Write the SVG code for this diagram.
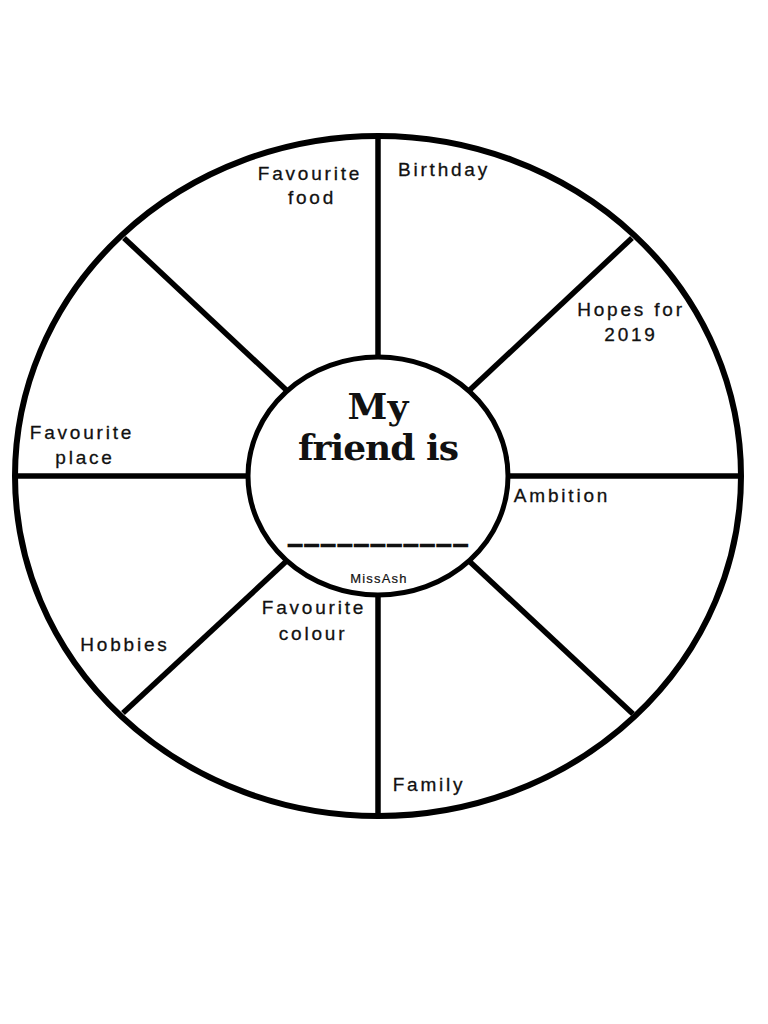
<svg xmlns="http://www.w3.org/2000/svg" width="768" height="1024" viewBox="0 0 768 1024">
<style>
.lbl{font-family:"Liberation Sans",Arial,sans-serif;font-size:19px;letter-spacing:2.8px;fill:#111;stroke:#111;stroke-width:0.3;text-anchor:middle}
.spoke{stroke:#000;stroke-width:5.5;stroke-linecap:butt}
.title{font-family:"DejaVu Serif",serif;font-size:36px;font-weight:bold;fill:#111;text-anchor:middle}
</style>
<rect width="768" height="1024" fill="#fff"/>
<g id="wheel">
<ellipse cx="378" cy="476" rx="363" ry="340" fill="#fff" stroke="#000" stroke-width="6"/>
</g>
<g id="connectors">
<line class="spoke" x1="378" y1="136" x2="378" y2="476"/>
<line class="spoke" x1="378" y1="476" x2="378" y2="816"/>
<line class="spoke" x1="15" y1="476" x2="378" y2="476"/>
<line class="spoke" x1="378" y1="476" x2="741" y2="476"/>
<line class="spoke" x1="124" y1="238" x2="378" y2="476"/>
<line class="spoke" x1="632" y1="238" x2="378" y2="476"/>
<line class="spoke" x1="123" y1="713" x2="378" y2="476"/>
<line class="spoke" x1="633" y1="714" x2="378" y2="476"/>
</g>
<g id="center">
<ellipse cx="378" cy="476" rx="130" ry="119" fill="#fff" stroke="#000" stroke-width="5"/>
<text class="title" x="378" y="419" font-size="39">My</text>
<text class="title" x="378" y="460" letter-spacing="-1">friend is</text>
<text x="380" y="543" font-family="Liberation Sans,Arial,sans-serif" font-size="22" font-weight="bold" letter-spacing="4.3" text-anchor="middle" fill="#111" stroke="#111" stroke-width="2.5">___________</text>
<text x="379" y="583" font-family="Liberation Sans,Arial,sans-serif" font-size="13" letter-spacing="1.2" text-anchor="middle" fill="#111" stroke="#111" stroke-width="0.2">MissAsh</text>
</g>
<g id="favourite-food"><text class="lbl" x="310" y="180">Favourite</text><text class="lbl" x="312" y="204">food</text></g>
<g id="birthday"><text class="lbl" x="444" y="176">Birthday</text></g>
<g id="hopes"><text class="lbl" x="631" y="316">Hopes for</text><text class="lbl" x="631" y="341">2019</text></g>
<g id="ambition"><text class="lbl" x="562" y="502">Ambition</text></g>
<g id="favourite-place"><text class="lbl" x="82" y="439">Favourite</text><text class="lbl" x="85" y="464">place</text></g>
<g id="hobbies"><text class="lbl" x="125" y="651">Hobbies</text></g>
<g id="favourite-colour"><text class="lbl" x="314" y="614">Favourite</text><text class="lbl" x="313" y="640">colour</text></g>
<g id="family"><text class="lbl" x="429" y="791">Family</text></g>
</svg>
